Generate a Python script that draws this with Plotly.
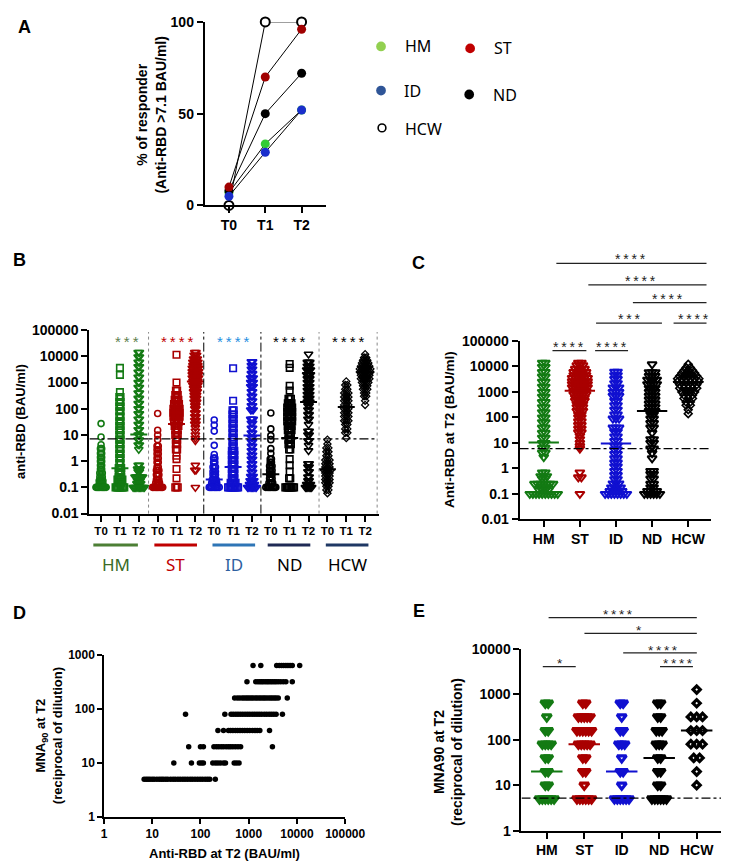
import plotly.graph_objects as go

W, H = 734, 862
FONT = 'Liberation Sans, Arial, sans-serif'
LFONT = 'Noto Sans, Open Sans, sans-serif'


def fx(px):
    return px / W


def fy(py):
    return 1 - py / H


# ---------------- Panel A data ----------------
A_TIMES = ['T0', 'T1', 'T2']
A_HCW = [0, 100, 100]
A_HM = [7, 33.5, 52]
A_ND = [8, 50, 72]
A_ID = [5, 29, 52]
A_ST = [10, 70, 96]

# ---------------- Panel B / C data (levels + counts) ----------------
GROUPS = ['HM', 'ST', 'ID', 'ND', 'HCW']
TIMES = ['T0', 'T1', 'T2']

HM_T0_V = [27, 8.3, 4.2, 3, 2, 1.4, 1, 0.7, 0.5, 0.35, 0.25, 0.18, 0.13, 0.1]
HM_T0_N = [1, 1, 1, 2, 2, 2, 2, 2, 2, 3, 3, 4, 4, 9]
HM_T1_V = [3600, 1950, 430, 280, 180, 120, 80, 50, 33, 22, 15, 10, 6.6, 4.4, 2.9, 1.9, 1.3, 0.85, 0.55, 0.36, 0.24, 0.2, 0.15, 0.1]
HM_T1_N = [1, 1, 1, 2, 2, 2, 2, 2, 2, 2, 2, 2, 2, 2, 2, 2, 2, 2, 3, 3, 3, 5, 3, 8]
HM_T2_V = [14000, 9500, 6000, 4000, 2500, 1600, 1000, 650, 400, 250, 160, 100, 65, 40, 25, 16, 10, 6.5, 4.2, 2.8,
           0.7, 0.5, 0.4, 0.25, 0.18, 0.14, 0.1]
HM_T2_N = [2, 2, 2, 2, 2, 2, 2, 2, 2, 2, 2, 2, 2, 2, 2, 2, 2, 2, 2, 1, 2, 3, 2, 7, 3, 4, 10]

ST_T0_V = [66, 15, 10, 6.6, 3.8, 2.7, 1.9, 1.3, 0.9, 0.6, 0.45, 0.3, 0.2, 0.15, 0.1]
ST_T0_N = [1, 1, 1, 1, 2, 2, 2, 2, 2, 2, 3, 3, 3, 4, 9]
ST_T1_V = [11500, 1000, 490, 330, 220, 150, 100, 70, 50, 33, 22, 15, 10, 6.6, 4.4, 2.8, 1.6, 1.2, 0.5, 0.22, 0.1]
ST_T1_N = [1, 1, 2, 3, 4, 5, 6, 6, 6, 5, 4, 3, 3, 2, 2, 2, 1, 1, 1, 1, 3]
ST_T2_V = [14000, 11000, 8000, 6000, 4500, 3500, 2600, 2000, 1500, 1100, 800, 600, 450, 330, 250, 180, 130, 100,
           70, 50, 36, 26, 19, 14, 10, 7.5, 6, 0.7, 0.45, 0.1]
ST_T2_N = [2, 3, 4, 5, 5, 6, 6, 6, 6, 5, 5, 4, 4, 3, 3, 3, 2, 2, 2, 2, 2, 2, 1, 1, 1, 1, 1, 1, 2, 1]

ID_T0_V = [37, 24, 14, 4, 1.8, 1.3, 0.9, 0.6, 0.4, 0.3, 0.2, 0.15, 0.1]
ID_T0_N = [1, 1, 1, 1, 1, 2, 2, 3, 3, 3, 4, 5, 9]
ID_T1_V = [3500, 200, 87, 60, 40, 27, 18, 12, 8, 5.5, 3.7, 2.5, 1.7, 1.1, 0.75, 0.5, 0.33, 0.22, 0.15, 0.1]
ID_T1_N = [1, 1, 2, 2, 2, 2, 2, 2, 2, 2, 2, 3, 3, 3, 3, 3, 3, 3, 5, 9]
ID_T2_V = [6200, 4500, 3200, 2200, 1500, 1000, 700, 450, 300, 200, 130, 90, 40, 28, 18, 12, 8, 5.5, 3.7, 2.5,
           1.7, 1.2, 0.8, 0.55, 0.38, 0.26, 0.18, 0.13, 0.1]
ID_T2_N = [2, 2, 2, 2, 3, 3, 3, 2, 2, 2, 2, 3, 3, 2, 2, 2, 2, 2, 2, 2, 2, 2, 2, 2, 2, 3, 4, 5, 8]

ND_T0_V = [69, 17, 9.4, 6.6, 3, 2, 1.2, 0.9, 0.65, 0.45, 0.32, 0.22, 0.15, 0.1]
ND_T0_N = [1, 1, 1, 1, 1, 1, 2, 2, 3, 3, 3, 3, 4, 9]
ND_T1_V = [5100, 3600, 750, 490, 240, 160, 110, 75, 50, 33, 22, 15, 10, 6.6, 4.4, 2.8, 1.2, 0.7, 0.4, 0.22, 0.1]
ND_T1_N = [1, 1, 1, 1, 3, 4, 5, 5, 5, 5, 4, 4, 3, 3, 3, 2, 1, 1, 1, 2, 8]
ND_T2_V = [12000, 5900, 4200, 3000, 2000, 1400, 1000, 700, 500, 350, 250, 180, 130, 90, 60, 40, 25, 14, 10, 6,
           4, 2.5, 0.8, 0.6, 0.4, 0.25, 0.18, 0.13, 0.1]
ND_T2_N = [1, 3, 3, 4, 4, 3, 3, 3, 3, 3, 3, 3, 2, 2, 2, 2, 1, 2, 2, 2, 1, 1, 2, 2, 2, 2, 2, 4, 6]

HCW_T0_V = [6.6, 4.5, 3.2, 2.3, 1.6, 1.1, 0.8, 0.6, 0.45, 0.35, 0.27, 0.2, 0.15, 0.11, 0.08, 0.06]
HCW_T0_N = [1, 1, 2, 2, 2, 3, 3, 3, 4, 3, 3, 3, 3, 2, 2, 1]
HCW_T1_V = [1100, 800, 550, 400, 280, 200, 140, 100, 70, 50, 35, 25, 17, 12, 7.6]
HCW_T1_N = [1, 2, 2, 3, 3, 3, 3, 3, 3, 3, 3, 2, 2, 2, 1]
HCW_T2_V = [12000, 9000, 7000, 5500, 4200, 3300, 2500, 1900, 1400, 1000, 750, 550, 400, 300, 200, 140]
HCW_T2_N = [1, 2, 3, 4, 5, 6, 6, 5, 5, 4, 3, 3, 2, 2, 1, 1]

MED_T0 = [0.1, 0.1, 0.2, 0.32, 0.49]
MED_T1 = [0.54, 26, 0.6, 7.6, 117]
MED_T2 = [10.5, 1100, 9.5, 180, 2450]
B_THRESHOLD = 7.1
C_THRESHOLD = 6.0

B_STARS = ['***', '****', '****', '****', '****']

# ---------------- Panel D data ----------------
D_MNA = [5, 10, 20, 40, 80, 160, 320, 640]
D_RBD_5 = [6.8, 7.5, 8.2, 9, 10, 11, 12.5, 14, 15.5, 17, 19, 21, 24, 27, 30, 34, 38, 43, 48, 54, 61, 68, 77, 87,
           98, 110, 125, 140, 156, 203]
D_RBD_10 = [28, 65, 95, 105, 115, 180, 205, 230, 260, 300, 330, 500, 560, 630]
D_RBD_20 = [57, 100, 115, 190, 215, 240, 270, 300, 340, 380, 420, 470, 530, 600, 680, 3100]
D_RBD_40 = [230, 300, 380, 420, 470, 530, 590, 660, 740, 830, 930, 1050, 1200, 1350, 1500, 1700, 2700]
D_RBD_80 = [49, 320, 430, 480, 540, 600, 670, 750, 840, 940, 1050, 1180, 1320, 1480, 1650, 1850, 2100, 2350,
            2650, 2950, 3300, 3700, 5000]
D_RBD_160 = [510, 580, 650, 730, 800, 880, 960, 1050, 1150, 1250, 1380, 1500, 1650, 1800, 1980, 2150, 2350,
             2600, 2850, 3100, 3400, 3700, 4100, 6300]
D_RBD_320 = [920, 1400, 1550, 1700, 1850, 2000, 2200, 2400, 2600, 2850, 3100, 3400, 3700, 4100, 4600, 5200,
             5900, 8000]
D_RBD_640 = [1230, 1780, 3800, 4300, 4800, 5300, 5900, 6500, 7200, 8000, 11400]

# ---------------- Panel E data ----------------
E_LEVELS = [640, 320, 160, 80, 40, 20, 10, 5]
E_HM_N = [2, 1, 2, 4, 2, 2, 2, 6]
E_ST_N = [2, 5, 6, 5, 2, 2, 1, 6]
E_ID_N = [2, 1, 2, 3, 1, 2, 1, 6]
E_ND_N = [2, 2, 3, 3, 2, 2, 2, 6]
E_HCW_LEVELS = [1280, 640, 320, 160, 80, 40, 20, 10]
E_HCW_N = [1, 1, 3, 3, 3, 2, 1, 1]
E_MED = [20, 80, 20, 40, 160]
E_THRESHOLD = 5.2

# ---------------- styling ----------------
COL = {'HM': '#137a13', 'ST': '#a90000', 'ID': '#1010d0', 'ND': '#000000', 'HCW': '#000000'}
A_COL = {'HM': '#33cc33', 'ST': '#a00000', 'ID': '#1a2ecc', 'ND': '#000000'}

fig = go.Figure()


def swarm(levels, counts, center, s_cat):
    xs, ys = [], []
    for v, n in zip(levels, counts):
        for i in range(n):
            xs.append(center + (i - (n - 1) / 2) * s_cat)
            ys.append(v)
    return xs, ys


def add_pts(xs, ys, symbol, size, color, lw, xa, ya):
    fig.add_trace(go.Scatter(x=xs, y=ys, mode='markers', xaxis=xa, yaxis=ya,
                             marker=dict(symbol=symbol, size=size, color=color,
                                         line=dict(width=lw, color=color)),
                             showlegend=False, hoverinfo='skip', cliponaxis=False))


def add_line(xs, ys, color, width, xa, ya, dash='solid'):
    fig.add_trace(go.Scatter(x=xs, y=ys, mode='lines', xaxis=xa, yaxis=ya,
                             line=dict(color=color, width=width, dash=dash),
                             showlegend=False, hoverinfo='skip', cliponaxis=False))


# ---------------- Panel A ----------------
for name, vals in [('HCW', A_HCW), ('HM', A_HM), ('ND', A_ND), ('ID', A_ID), ('ST', A_ST)]:
    if name == 'HCW':
        mk = dict(symbol='circle', size=9, color='white', line=dict(width=2, color='black'))
    else:
        mk = dict(symbol='circle', size=9, color=A_COL[name], line=dict(width=0))
    fig.add_trace(go.Scatter(x=[0, 1, 2], y=vals, mode='lines+markers', xaxis='x', yaxis='y',
                             line=dict(color='black', width=1), marker=mk,
                             showlegend=False, hoverinfo='skip', cliponaxis=False))

# ---------------- Panel B ----------------
B_DATA = {
    'HM': [(HM_T0_V, HM_T0_N), (HM_T1_V, HM_T1_N), (HM_T2_V, HM_T2_N)],
    'ST': [(ST_T0_V, ST_T0_N), (ST_T1_V, ST_T1_N), (ST_T2_V, ST_T2_N)],
    'ID': [(ID_T0_V, ID_T0_N), (ID_T1_V, ID_T1_N), (ID_T2_V, ID_T2_N)],
    'ND': [(ND_T0_V, ND_T0_N), (ND_T1_V, ND_T1_N), (ND_T2_V, ND_T2_N)],
    'HCW': [(HCW_T0_V, HCW_T0_N), (HCW_T1_V, HCW_T1_N), (HCW_T2_V, HCW_T2_N)],
}
B_SYM = ['circle-open', 'square-open', 'triangle-down-open']
B_CAT_PX = 19.53
B_S = 1.3 / B_CAT_PX
for gi, g in enumerate(GROUPS):
    for ti in range(3):
        c = gi * 3 + ti
        lv, cn = B_DATA[g][ti]
        if g == 'HCW':
            xs, ys = swarm(lv, cn, c, 2.2 / B_CAT_PX)
            add_pts(xs, ys, 'diamond-open', 5.5, COL[g], 1.3, 'x2', 'y2')
        else:
            xs, ys = swarm(lv, cn, c, B_S)
            sym = B_SYM[ti]
            size = {'circle-open': 6, 'square-open': 6.5, 'triangle-down-open': 7.5}[sym]
            add_pts(xs, ys, sym, size, COL[g], 1.6, 'x2', 'y2')
        med = [MED_T0, MED_T1, MED_T2][ti][gi]
        add_line([c - 0.45, c + 0.45], [med, med], COL[g], 2, 'x2', 'y2')

add_line([-0.615, 14.6], [B_THRESHOLD, B_THRESHOLD], 'black', 1.2, 'x2', 'y2', dash='dashdot')

# ---------------- Panel C ----------------
C_CAT_PX = 37.25
C_S = 3.2 / C_CAT_PX
for gi, g in enumerate(GROUPS):
    lv, cn = B_DATA[g][2]
    if g == 'HCW':
        xs, ys = swarm(lv, cn, gi, 4.4 / C_CAT_PX)
        add_pts(xs, ys, 'diamond-open', 6, COL[g], 1.6, 'x3', 'y3')
    else:
        xs, ys = swarm(lv, cn, gi, C_S)
        add_pts(xs, ys, 'triangle-down-open', 8, COL[g], 2, 'x3', 'y3')
    add_line([gi - 0.42, gi + 0.42], [MED_T2[gi], MED_T2[gi]], COL[g], 2, 'x3', 'y3')
add_line([-0.67, 4.64], [C_THRESHOLD, C_THRESHOLD], 'black', 1.2, 'x3', 'y3', dash='dashdot')

# ---------------- Panel D ----------------
dx_all, dy_all = [], []
for lvl, xs in zip(D_MNA, [D_RBD_5, D_RBD_10, D_RBD_20, D_RBD_40, D_RBD_80, D_RBD_160, D_RBD_320, D_RBD_640]):
    dx_all += xs
    dy_all += [lvl] * len(xs)
fig.add_trace(go.Scatter(x=dx_all, y=dy_all, mode='markers', xaxis='x4', yaxis='y4',
                         marker=dict(symbol='circle', size=5.5, color='black'),
                         showlegend=False, hoverinfo='skip', cliponaxis=False))

# ---------------- Panel E ----------------
E_CAT_PX = 38.5
E_COUNTS = [E_HM_N, E_ST_N, E_ID_N, E_ND_N]
for gi, g in enumerate(GROUPS):
    if g == 'HCW':
        xs, ys = swarm(E_HCW_LEVELS, E_HCW_N, gi, 6.0 / E_CAT_PX)
        add_pts(xs, ys, 'diamond-open', 5.5, COL[g], 3.2, 'x5', 'y5')
    else:
        xs, ys = swarm(E_LEVELS, E_COUNTS[gi], gi, 3.0 / E_CAT_PX)
        add_pts(xs, ys, 'triangle-down-open', 8, COL[g], 3.2, 'x5', 'y5')
    add_line([gi - 0.42, gi + 0.42], [E_MED[gi], E_MED[gi]], COL[g], 2, 'x5', 'y5')
add_line([-0.675, 4.65], [E_THRESHOLD, E_THRESHOLD], 'black', 1.2, 'x5', 'y5', dash='dashdot')

# ---------------- axes ----------------
def ax(**kw):
    base = dict(showline=True, linecolor='black', linewidth=2, ticks='outside', ticklen=6, tickwidth=2,
                tickcolor='black', showgrid=False, zeroline=False,
                tickfont=dict(family=FONT, size=14, color='black', weight='bold'))
    base.update(kw)
    return base


LOG_TV = [0.01, 0.1, 1, 10, 100, 1000, 10000, 100000]
LOG_TT = ['0.01', '0.1', '1', '10', '100', '1000', '10000', '100000']

fig.update_layout(
    width=W, height=H, margin=dict(l=0, r=0, t=0, b=0),
    paper_bgcolor='white', plot_bgcolor='white',
    xaxis=ax(domain=[fx(200), fx(325)], anchor='y', range=[-0.667, 2.667],
             tickvals=[0, 1, 2], ticktext=A_TIMES),
    yaxis=ax(domain=[fy(193), fy(6)], anchor='x', range=[0, 100], tickvals=[0, 50, 100]),
    xaxis2=ax(domain=[fx(81), fx(380)], anchor='y2', range=[-0.615, 14.74],
              tickvals=list(range(15)), ticktext=TIMES * 5,
              tickfont=dict(family=FONT, size=11.5, color='black', weight='bold')),
    yaxis2=ax(domain=[fy(507), fy(320)], anchor='x2', type='log', range=[-2, 5],
              tickvals=LOG_TV, ticktext=LOG_TT),
    xaxis3=ax(domain=[fx(525), fx(723)], anchor='y3', range=[-0.67, 4.64],
              tickvals=list(range(5)), ticktext=GROUPS),
    yaxis3=ax(domain=[fy(513), fy(331)], anchor='x3', type='log', range=[-2, 5],
              tickvals=LOG_TV, ticktext=LOG_TT),
    xaxis4=ax(domain=[fx(96), fx(345)], anchor='y4', type='log', range=[0, 5],
              tickvals=[1, 10, 100, 1000, 10000, 100000],
              ticktext=['1', '10', '100', '1000', '10000', '100000'], linewidth=1.5, tickwidth=1.5,
              ticklen=5, tickfont=dict(family=FONT, size=12, color='black', weight='bold')),
    yaxis4=ax(domain=[fy(816), fy(651)], anchor='x4', type='log', range=[0, 3],
              tickvals=[1, 10, 100, 1000], ticktext=['1', '10', '100', '1000'], linewidth=1.5,
              tickwidth=1.5, ticklen=5, tickfont=dict(family=FONT, size=12, color='black', weight='bold')),
    xaxis5=ax(domain=[fx(527), fx(733)], anchor='y5', range=[-0.675, 4.65],
              tickvals=list(range(5)), ticktext=GROUPS),
    yaxis5=ax(domain=[fy(830), fy(645)], anchor='x5', type='log', range=[0, 4],
              tickvals=[1, 10, 100, 1000, 10000], ticktext=['1', '10', '100', '1000', '10000']),
)

# ---------------- shapes & annotations ----------------
shapes = []
ann = []


def txt(px, py, text, size=14, color='black', bold=True, family=FONT, angle=0, xanchor='center'):
    ann.append(dict(x=fx(px), y=fy(py), xref='paper', yref='paper', text=text, showarrow=False,
                    xanchor=xanchor, yanchor='middle', textangle=angle,
                    font=dict(family=family, size=size, color=color, weight='bold' if bold else 'normal')))


def hline(x0, x1, py, color='#222222', width=1.2):
    shapes.append(dict(type='line', xref='paper', yref='paper', x0=fx(x0), x1=fx(x1), y0=fy(py), y1=fy(py),
                       line=dict(color=color, width=width)))


# panel letters
txt(14, 11, 'A', 18)
txt(9, 249, 'B', 18)
txt(421, 252, 'C', 18)
txt(9, 608, 'D', 18)
txt(421, 606, 'E', 18)

# axis titles
txt(145, 100, '% of responder<br>(Anti-RBD >7.1 BAU/ml)', 14, angle=-90)
txt(10, 413, 'anti-RBD (BAU/ml)', 13, angle=-90)
txt(452, 421, 'Anti-RBD at T2 (BAU/ml)', 13.5, angle=-90)
txt(40, 733, 'MNA<sub>90</sub> at T2<br>(reciprocal of dilution)', 13, angle=-90)
txt(220, 853, 'Anti-RBD at T2 (BAU/ml)', 13)
txt(451, 750, 'MNA90 at T2<br>(reciprocal of dilution)', 14, angle=-90)

# panel A legend
LEG = [('HM', 382, 31, '#92d050', 420, 31), ('ST', 474, 33, '#c00000', 508, 33),
       ('ID', 382, 76, '#2f5597', 415, 76), ('ND', 473, 80, '#000000', 510, 80),
       ('HCW', 383, 114, None, 426, 115)]
for lab, cx, cy, colr, tx, ty in LEG:
    r = 5 if colr else 4
    shapes.append(dict(type='circle', xref='paper', yref='paper', x0=fx(cx - r), x1=fx(cx + r),
                       y0=fy(cy + r), y1=fy(cy - r),
                       fillcolor=colr if colr else 'white',
                       line=dict(color=colr if colr else 'black', width=0 if colr else 1.6)))
    txt(tx, ty, lab, 16, bold=False, family=LFONT)

# panel B separators
SEP = [(142, '#888888', 'dot'), (199, '#000000', 'dashdot'), (258, '#000000', 'dashdot'),
       (318, '#888888', 'dot'), (378, '#888888', 'dot')]
for px, colr, dash in SEP:
    shapes.append(dict(type='line', xref='paper', yref='paper', x0=fx(px), x1=fx(px), y0=fy(507), y1=fy(322),
                       line=dict(color=colr, width=1, dash=dash)))

# panel B stars
STAR_COL = ['#5e7f4e', '#c00000', '#1f8fdf', '#000000', '#000000']
STAR_X = [120, 172, 230, 288, 348]
for s, c, x in zip(B_STARS, STAR_COL, STAR_X):
    txt(x, 332, '\u2009'.join(s), 15, color=c, bold=False, family=FONT)

# panel B group labels
GL = [('HM', 85, 131, '#4c7f35', '#3a6b26'), ('ST', 148, 192, '#c00000', '#c00000'),
      ('ID', 208, 252, '#2e75b6', '#2e5fa0'), ('ND', 265, 309, '#1f2a55', '#000000'),
      ('HCW', 325, 369, '#1f3864', '#000000')]
for lab, x0, x1, lc, tc in GL:
    hline(x0, x1, 539, lc, 3)
    txt((x0 + x1) / 2, 559, lab, 17, color=tc, bold=False, family=LFONT)

# panel C significance bars
C_SIG = [(563, 718, 252, 640, '****'), (596, 718, 274, 650, '****'), (642, 718, 292, 678, '****'),
         (604, 672, 313, 638, '***'), (684, 718, 313, 705, '****'), (559, 594, 341, 576, '****'),
         (603, 637, 341, 620, '****')]
for x0, x1, y, tx, s in C_SIG:
    hline(x0, x1, y)
    txt(tx, y - 4, '\u2009'.join(s), 14, bold=False, family=FONT, color='#222222')

# panel E significance bars
E_SIG = [(555, 708, 613, 627, '****'), (592, 708, 629, 648, '*'), (632, 708, 649, 673, '****'),
         (549, 583, 663, 567, '*'), (670, 704, 663, 689, '****')]
for x0, x1, y, tx, s in E_SIG:
    hline(x0, x1, y)
    txt(tx, y - 3, '\u2009'.join(s), 13.5, bold=False, family=FONT, color='#222222')

fig.update_layout(shapes=shapes, annotations=ann)
fig.write_html('out.html')
